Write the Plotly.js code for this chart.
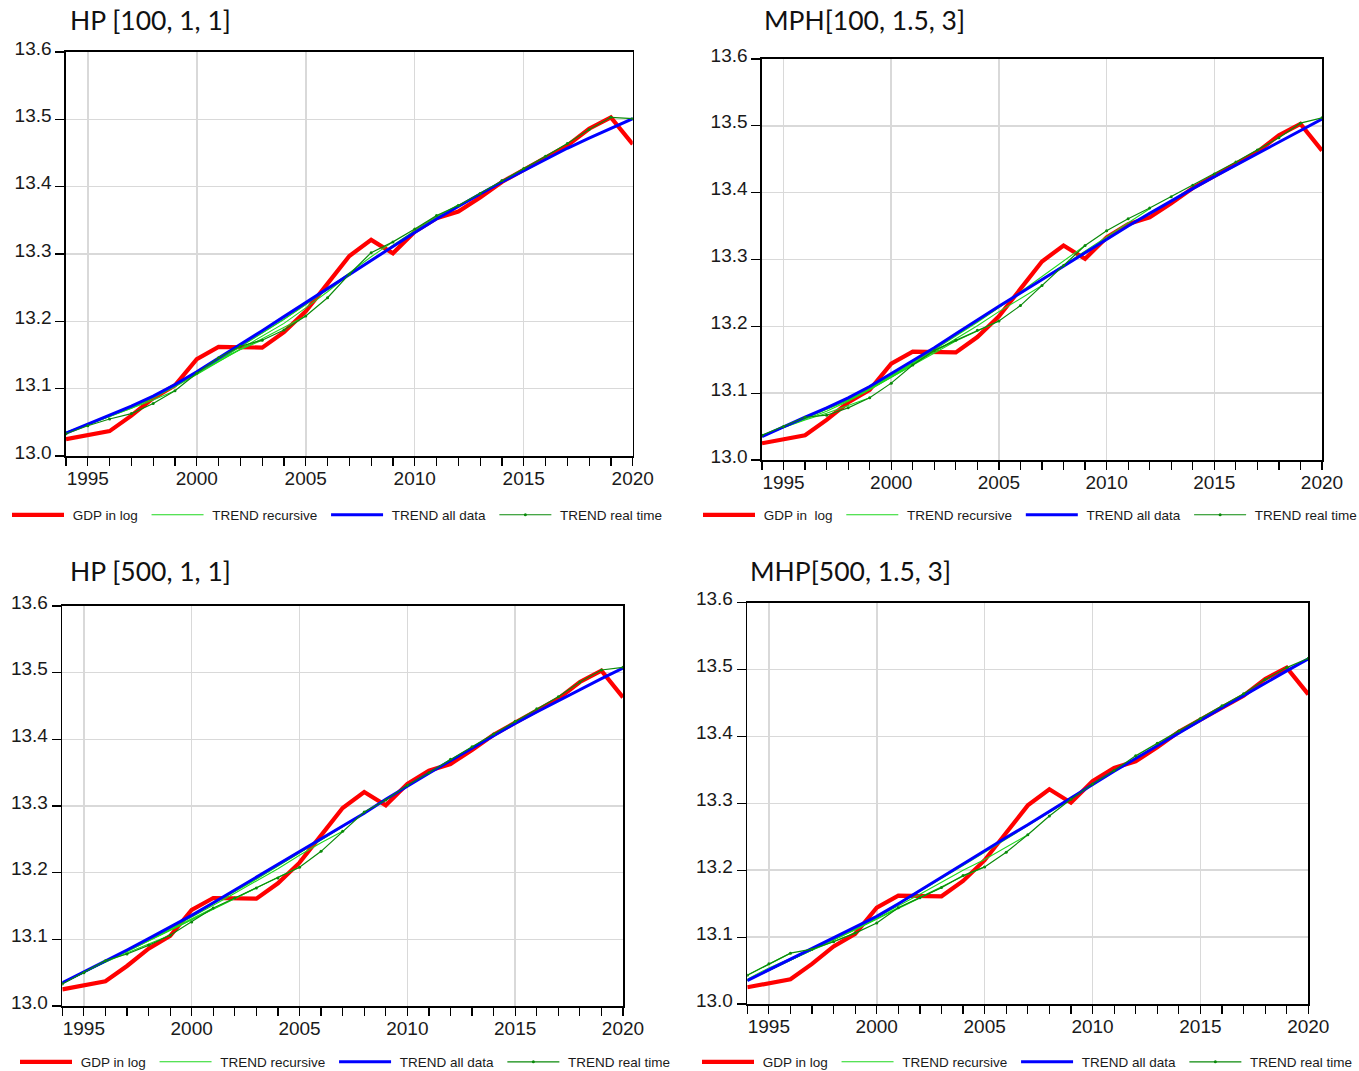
<!DOCTYPE html>
<html>
<head>
<meta charset="utf-8">
<script src="https://cdn.plot.ly/plotly-3.0.1.min.js"></script>
<style>
  html, body { margin: 0; padding: 0; background: #ffffff; }
  #chart { width: 1359px; height: 1071px; }
</style>
</head>
<body>
<div id="chart"></div>
<script>
// ---------------- DATA ----------------
const years = [1994,1995,1996,1997,1998,1999,2000,2001,2002,2003,2004,2005,2006,2007,2008,2009,2010,2011,2012,2013,2014,2015,2016,2017,2018,2019,2020];

const panelTitles = ["HP [100, 1, 1]", "MPH[100, 1.5, 3]", "HP [500, 1, 1]", "MHP[500, 1.5, 3]"];
const seriesNames = ["GDP in log", "TREND recursive", "TREND all data", "TREND real time"];
const gdpLegendNames = ["GDP in log", "GDP in  log", "GDP in log", "GDP in log"];

// GDP in log (same in all four panels)
const gdpLog = [13.025,13.031,13.037,13.060,13.086,13.105,13.144,13.162,13.162,13.161,13.184,13.215,13.256,13.297,13.321,13.301,13.333,13.353,13.363,13.384,13.407,13.425,13.442,13.461,13.486,13.503,13.463];

// TREND all data
const trendAll1 = [13.034,13.047,13.060,13.074,13.089,13.106,13.125,13.145,13.165,13.186,13.207,13.228,13.249,13.270,13.291,13.312,13.332,13.352,13.371,13.389,13.407,13.424,13.441,13.457,13.472,13.487,13.501];
const trendAll2 = [13.035,13.050,13.064,13.078,13.093,13.110,13.129,13.148,13.168,13.189,13.210,13.230,13.250,13.270,13.290,13.311,13.331,13.350,13.369,13.388,13.406,13.424,13.441,13.459,13.476,13.493,13.510];
const trendAll3 = [13.035,13.051,13.067,13.084,13.101,13.118,13.136,13.155,13.174,13.193,13.212,13.231,13.250,13.270,13.289,13.310,13.330,13.349,13.368,13.387,13.406,13.424,13.441,13.458,13.475,13.491,13.507];
const trendAll4 = [13.035,13.051,13.066,13.082,13.098,13.114,13.131,13.150,13.170,13.190,13.210,13.230,13.249,13.268,13.288,13.308,13.329,13.348,13.367,13.386,13.405,13.425,13.443,13.461,13.480,13.498,13.516];

// TREND real time
const trendReal1 = [13.033,13.045,13.055,13.063,13.078,13.097,13.123,13.146,13.163,13.172,13.187,13.208,13.235,13.270,13.302,13.318,13.337,13.357,13.372,13.390,13.409,13.427,13.445,13.464,13.485,13.503,13.501];
const trendReal2 = [13.037,13.050,13.064,13.067,13.078,13.093,13.115,13.142,13.164,13.179,13.194,13.208,13.231,13.261,13.291,13.321,13.343,13.361,13.377,13.394,13.411,13.428,13.446,13.464,13.482,13.504,13.512];
const trendReal3 = [13.033,13.050,13.068,13.078,13.091,13.106,13.126,13.147,13.162,13.177,13.192,13.208,13.232,13.262,13.291,13.309,13.331,13.350,13.370,13.389,13.408,13.427,13.446,13.464,13.486,13.504,13.508];
const trendReal4 = [13.043,13.060,13.076,13.082,13.093,13.106,13.121,13.144,13.159,13.174,13.192,13.205,13.227,13.253,13.281,13.306,13.329,13.349,13.371,13.390,13.408,13.427,13.446,13.464,13.485,13.503,13.517];

// TREND recursive (trends estimated on samples ending in different years)
const recursive1 = [
  [13.034,13.046,13.058,13.070,13.083,13.097],
  [13.034,13.046,13.058,13.071,13.086,13.104,13.124,13.146],
  [13.035,13.047,13.059,13.073,13.088,13.105,13.124,13.143,13.158,13.172],
  [13.035,13.047,13.059,13.073,13.088,13.105,13.123,13.141,13.158,13.174,13.191,13.208],
  [13.034,13.047,13.059,13.072,13.087,13.103,13.121,13.140,13.158,13.177,13.197,13.220,13.244,13.270],
  [13.034,13.047,13.060,13.073,13.088,13.104,13.122,13.142,13.162,13.182,13.203,13.225,13.248,13.272,13.296,13.318],
  [13.034,13.047,13.060,13.073,13.088,13.104,13.122,13.142,13.162,13.182,13.203,13.225,13.247,13.269,13.292,13.314,13.335,13.355,13.373]
];
const recursive2 = [
  [13.037,13.049,13.060,13.070,13.081,13.093],
  [13.036,13.049,13.061,13.073,13.088,13.105,13.124,13.142],
  [13.036,13.049,13.062,13.075,13.089,13.106,13.125,13.145,13.163,13.179],
  [13.035,13.049,13.062,13.076,13.090,13.106,13.124,13.143,13.161,13.178,13.193,13.208],
  [13.035,13.049,13.062,13.076,13.090,13.106,13.124,13.143,13.162,13.181,13.201,13.222,13.242,13.261],
  [13.035,13.049,13.063,13.077,13.092,13.108,13.126,13.145,13.165,13.185,13.206,13.228,13.251,13.275,13.298,13.321],
  [13.035,13.049,13.063,13.077,13.092,13.108,13.126,13.146,13.166,13.186,13.207,13.228,13.249,13.270,13.291,13.313,13.334,13.355,13.376]
];
const recursive3 = [
  [13.034,13.051,13.066,13.080,13.093,13.106],
  [13.034,13.050,13.066,13.082,13.098,13.114,13.131,13.147],
  [13.034,13.050,13.066,13.082,13.098,13.114,13.130,13.146,13.162,13.177],
  [13.034,13.050,13.066,13.082,13.098,13.114,13.130,13.146,13.162,13.178,13.193,13.208],
  [13.034,13.050,13.066,13.083,13.099,13.116,13.133,13.151,13.169,13.187,13.206,13.226,13.245,13.262],
  [13.035,13.051,13.067,13.083,13.100,13.117,13.135,13.153,13.171,13.190,13.210,13.230,13.250,13.270,13.290,13.309],
  [13.035,13.051,13.067,13.083,13.100,13.117,13.135,13.153,13.172,13.191,13.210,13.229,13.249,13.269,13.289,13.309,13.330,13.350,13.370]
];
const recursive4 = [
  [13.043,13.059,13.076],
  [13.037,13.054,13.068,13.081,13.094,13.106],
  [13.036,13.051,13.065,13.080,13.095,13.111,13.127,13.144],
  [13.035,13.050,13.065,13.080,13.095,13.111,13.127,13.143,13.159,13.174],
  [13.035,13.050,13.065,13.080,13.096,13.112,13.128,13.144,13.160,13.176,13.191,13.205],
  [13.035,13.050,13.065,13.080,13.096,13.112,13.129,13.146,13.164,13.182,13.200,13.216,13.234,13.253],
  [13.035,13.051,13.066,13.082,13.098,13.114,13.131,13.149,13.168,13.187,13.207,13.227,13.247,13.266,13.286,13.306]
];

const trendAll = [trendAll1, trendAll2, trendAll3, trendAll4];
const trendReal = [trendReal1, trendReal2, trendReal3, trendReal4];
const recursive = [recursive1, recursive2, recursive3, recursive4];

// ---------------- LAYOUT GEOMETRY (pixels) ----------------
const W = 1359, H = 1071;
const boxes = [
  {l: 66,    r: 632.7,  t: 52,    b: 456},
  {l: 762,   r: 1322,   t: 59,    b: 460},
  {l: 62.3,  r: 623,    t: 606,   b: 1006},
  {l: 747.3, r: 1308.3, t: 602.7, b: 1004}
];
const titlePos = [{x: 68, y: 20}, {x: 762, y: 20}, {x: 68, y: 571}, {x: 748, y: 571}];
const legendPos = [{x: 7, y: 515}, {x: 698, y: 515}, {x: 15, y: 1062}, {x: 697, y: 1062}];

const RED = '#ff0000', LGREEN = '#1ed81e', BLUE = '#0000ff', DGREEN = '#0a8a0a';
const tickFont = {family: 'Liberation Sans, Arial, sans-serif', size: 19, color: '#1a1a1a'};
const legendFont = {family: 'Liberation Sans, Arial, sans-serif', size: 13.5, color: '#1a1a1a'};
const pad = s => '\u00a0' + s + '\u00a0';
const padLast = s => '\u00a0' + s;

const traces = [];
const layout = {
  width: W, height: H,
  margin: {l: 0, r: 0, t: 0, b: 0, autoexpand: false},
  paper_bgcolor: '#ffffff',
  plot_bgcolor: '#ffffff',
  showlegend: true,
  annotations: []
};

for (let p = 0; p < 4; p++) {
  const n = p === 0 ? '' : String(p + 1);
  const xa = 'x' + n, ya = 'y' + n;
  const lg = 'legend' + n;

  traces.push({
    x: years, y: gdpLog, xaxis: xa, yaxis: ya, legend: lg,
    type: 'scatter', mode: 'lines', name: pad(gdpLegendNames[p]),
    line: {color: RED, width: 4.2}, hoverinfo: 'skip'
  });
  recursive[p].forEach((arr, i) => {
    traces.push({
      x: years.slice(0, arr.length), y: arr, xaxis: xa, yaxis: ya, legend: lg,
      type: 'scatter', mode: 'lines', name: pad(seriesNames[1]),
      showlegend: i === 0, legendgroup: 'rec' + p,
      line: {color: LGREEN, width: 1.1}, hoverinfo: 'skip'
    });
  });
  traces.push({
    x: years, y: trendAll[p], xaxis: xa, yaxis: ya, legend: lg,
    type: 'scatter', mode: 'lines', name: pad(seriesNames[2]),
    line: {color: BLUE, width: 3}, hoverinfo: 'skip'
  });
  traces.push({
    x: years, y: trendReal[p], xaxis: xa, yaxis: ya, legend: lg,
    type: 'scatter', mode: 'lines+markers', name: padLast(seriesNames[3]),
    line: {color: DGREEN, width: 1.2},
    marker: {color: DGREEN, size: 3, symbol: 'circle'}, hoverinfo: 'skip'
  });

  const b = boxes[p];
  layout['xaxis' + n] = {
    domain: [b.l / W, b.r / W], anchor: ya,
    range: [1994, 2020], tick0: 1995, dtick: 5,
    ticks: 'outside', ticklen: 8, tickwidth: 1.2, tickcolor: '#000',
    ticklabelstandoff: -3,
    minor: {tick0: 1994, dtick: 1, ticks: 'outside', ticklen: 8, tickwidth: 1.2, tickcolor: '#000', showgrid: false},
    showgrid: true, gridcolor: '#d9d9d9', gridwidth: 1.5,
    showline: true, mirror: true, linecolor: '#000', linewidth: 1.6,
    zeroline: false, tickfont: tickFont, fixedrange: true, automargin: false
  };
  layout['yaxis' + n] = {
    domain: [1 - b.b / H, 1 - b.t / H], anchor: xa,
    range: [13.0, 13.6], tick0: 13.0, dtick: 0.1, tickformat: '.1f',
    ticks: 'outside', ticklen: 9, tickwidth: 1.2, tickcolor: '#000',
    ticklabelshift: -4,
    showgrid: true, gridcolor: '#d9d9d9', gridwidth: 1.5,
    showline: true, mirror: true, linecolor: '#000', linewidth: 1.6,
    zeroline: false, tickfont: tickFont, fixedrange: true, automargin: false
  };
  layout[lg] = {
    orientation: 'h', x: legendPos[p].x / W, xanchor: 'left',
    y: 1 - legendPos[p].y / H, yanchor: 'middle',
    font: legendFont, itemwidth: 52, traceorder: 'normal',
    bgcolor: 'rgba(0,0,0,0)', borderwidth: 0, itemclick: false, itemdoubleclick: false
  };
  layout.annotations.push({
    xref: 'paper', yref: 'paper',
    x: titlePos[p].x / W, y: 1 - titlePos[p].y / H,
    xanchor: 'left', yanchor: 'middle', showarrow: false,
    text: panelTitles[p],
    font: {family: 'Lato, Open Sans, sans-serif', size: 26.5, color: '#111'}
  });
}

Plotly.newPlot('chart', traces, layout, {displayModeBar: false, staticPlot: true});
</script>
</body>
</html>
